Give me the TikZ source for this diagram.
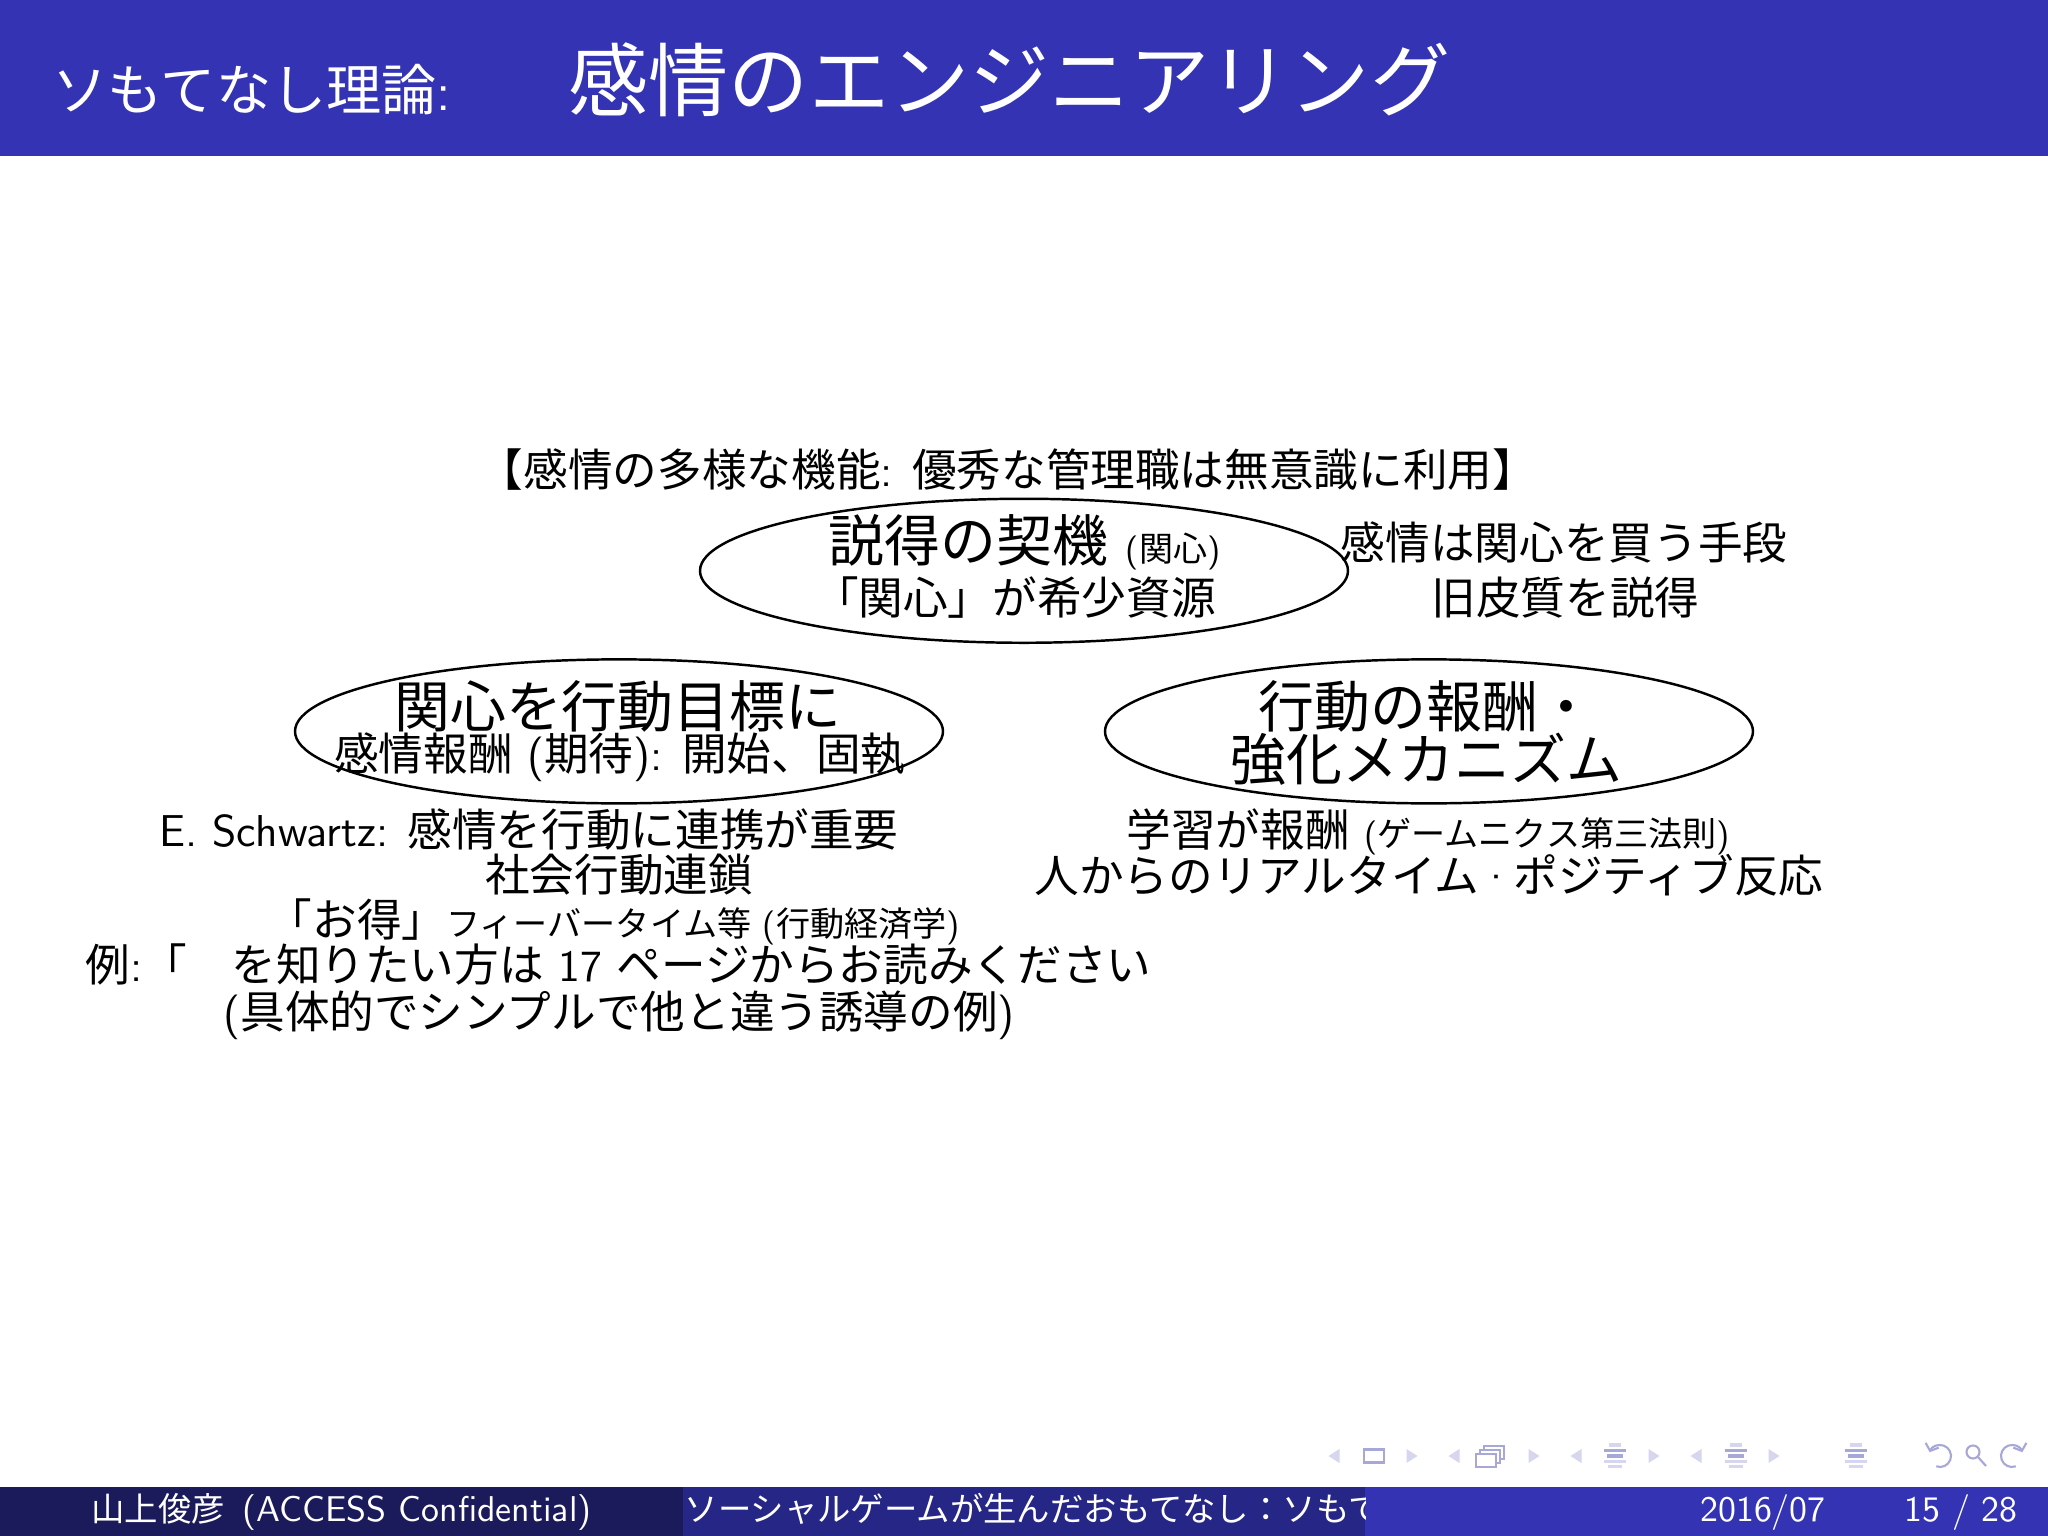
\documentclass[tikz,border=0pt]{standalone}
\usepackage{fontspec}
\newfontfamily\jp{Noto Sans CJK JP}
\usetikzlibrary{shapes.geometric, arrows.meta, positioning}
\definecolor{structBlue}{RGB}{51,51,179}
\definecolor{footDark}{RGB}{27,27,92}
\definecolor{footMid}{RGB}{38,38,134}
\definecolor{navLight}{RGB}{214,214,238}
\definecolor{navDark}{RGB}{168,168,216}
\newcommand{\smallJp}{\fontsize{9.7pt}{10pt}\selectfont}
\newcommand{\footJp}{\jp\fontsize{9.5pt}{10pt}\selectfont}
\newcommand{\lat}[1]{{\sffamily #1}}
\tikzset{
    % Slide frame
    barText/.style={text=white, inner sep=0pt, anchor=base west},
    footText/.style={text=white, inner sep=0pt, anchor=base, font=\sffamily\fontsize{10.2pt}{11pt}\selectfont},
    % Body text
    textNorm/.style={font=\jp\fontsize{12.7pt}{13pt}\selectfont, inner sep=0pt, anchor=base},
    textBig/.style={font=\jp\fontsize{15.9pt}{17pt}\selectfont, inner sep=0pt, anchor=base},
    ovalBox/.style={ellipse, draw=black, line width=0.7pt, minimum width=6.48cm, minimum height=1.44cm, inner sep=0pt},
    % Navigation symbols
    navLine/.style={draw=navDark, line width=0.6pt}
}

\begin{document}
\begin{tikzpicture}
    \useasboundingbox (0,0) rectangle (20.48,15.36);
    \fill[white] (0,0) rectangle (20.48,15.36);

    % Title bar
    \fill[structBlue] (0,13.80) rectangle (20.48,15.36);
    \node[barText, font=\jp\fontsize{15.7pt}{17pt}\selectfont] (subTitle) at (0.52,14.25) {ソもてなし理論\lat{:}};
    \node[barText, font=\jp\fontsize{22.8pt}{26pt}\selectfont] (mainTitle) at (5.68,14.25) {感情のエンジニアリング};

    % Heading
    \node[textNorm] (heading) at (10.08,10.49) {【感情の多様な機能\lat{: }優秀な管理職は無意識に利用】};

    % Ovals
    \node[ovalBox] (persuade) at (10.24,9.652) {};
    \node[ovalBox] (interest) at (6.19,8.046) {};
    \node[ovalBox] (reward) at (14.29,8.046) {};

    \node[textBig] (persuadeTop) at (10.247,9.74) {説得の契機\lat{ }{\smallJp\lat{(}関心\lat{)}}};
    \node[textNorm] (persuadeSub) at (10.149,9.21) {「関心」が希少資源};
    \node[textNorm] (buyTop) at (15.641,9.76) {感情は関心を買う手段};
    \node[textNorm] (buySub) at (15.654,9.21) {旧皮質を説得};

    \node[textBig] (interestTop) at (6.178,8.08) {関心を行動目標に};
    \node[textNorm] (interestSub) at (6.198,7.65) {感情報酬\lat{ (}期待\lat{): }開始、固執};

    \node[textBig] (rewardTop) at (14.263,8.08) {行動の報酬・};
    \node[textBig] (rewardSub) at (14.263,7.55) {強化メカニズム};

    % Left notes
    \node[textNorm] (schwartz) at (5.29,6.89) {\lat{E. Schwartz: }感情を行動に連携が重要};
    \node[textNorm] (chain) at (6.191,6.44) {社会行動連鎖};
    \node[textNorm] (bargain) at (6.139,5.99) {「お得」{\smallJp フィーバータイム等\lat{ (}行動経済学\lat{)}}};
    \node[textNorm] (example) at (6.184,5.54) {例\lat{:}「　を知りたい方は\lat{ 17 }ページからお読みください};
    \node[textNorm] (exampleNote) at (6.191,5.07) {\lat{(}具体的でシンプルで他と違う誘導の例\lat{)}};

    % Right notes
    \node[textNorm] (learning) at (14.282,6.89) {学習が報酬\lat{ }{\smallJp\lat{(}ゲームニクス第三法則\lat{)}}};
    \node[textNorm] (realtime) at (14.289,6.43) {人からのリアルタイム\lat{·}ポジティブ反応};

    % Footline
    \fill[footDark] (0,0) rectangle (6.827,0.493);
    \fill[footMid] (6.827,0) rectangle (13.653,0.493);
    \fill[structBlue] (13.653,0) rectangle (20.48,0.493);
    \node[footText] (author) at (3.415,0.14) {{\footJp 山上俊彦}\hspace{0.5em}(ACCESS Confidential)};
    \begin{scope}
        \clip (6.827,0) rectangle (13.653,0.493);
        \node[footText, anchor=base west] (talkTitle) at (6.84,0.14) {\footJp ソーシャルゲームが生んだおもてなし：ソもて};
    \end{scope}
    \node[footText] (date) at (17.63,0.14) {2016/07};
    \node[footText] (pageNo) at (19.61,0.14) {15 / 28};

    % Navigation symbols
    \foreach \x in {13.34,14.54,15.76,16.96}
        \fill[navLight] (\x-0.055,0.80) -- (\x+0.055,0.87) -- (\x+0.055,0.73) -- cycle;
    \foreach \x in {14.12,15.34,16.54,17.74}
        \fill[navLight] (\x+0.055,0.80) -- (\x-0.055,0.87) -- (\x-0.055,0.73) -- cycle;
    \draw[navLine] (13.64,0.735) rectangle (13.84,0.865);
    \foreach \d in {0.08,0.04,0}
        \draw[navLine, fill=white] (14.76+\d,0.69+\d) rectangle (14.96+\d,0.82+\d);
    \foreach \x in {16.15,17.355,18.555}
        \foreach \dy/\w/\c in {0.11/0.06/navLight, 0.055/0.11/navDark, 0/0.08/navDark, -0.055/0.11/navLight, -0.105/0.07/navLight}
            \draw[\c, line width=0.9pt] (\x-\w,0.80+\dy) -- (\x+\w,0.80+\dy);
    \draw[navLine, -{Straight Barb[length=0.6mm,width=1.4mm]}] (19.40,0.80) ++(-110:0.11) arc (-110:160:0.11);
    \draw[navLine, -{Straight Barb[length=0.6mm,width=1.4mm]}] (20.12,0.80) ++(-70:0.11) arc (-70:-340:0.11);
    \draw[navLine] (19.73,0.84) circle (0.065);
    \draw[navLine] (19.776,0.794) -- (19.86,0.70);
\end{tikzpicture}
\end{document}
